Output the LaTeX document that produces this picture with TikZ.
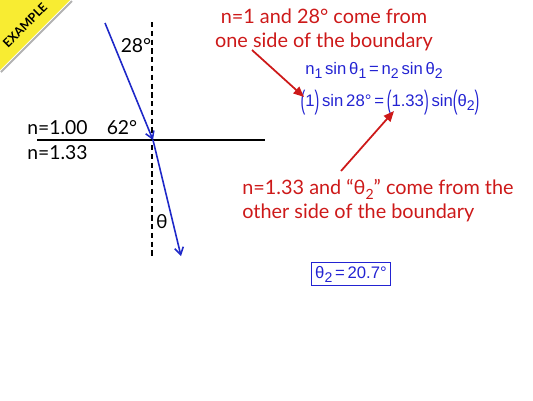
\documentclass[tikz,border=0pt]{standalone}
\usepackage{graphicx}
\usepackage{fontspec}
\setmainfont{Lato}
\newfontfamily\eqfont{Liberation Sans}
\usetikzlibrary{arrows.meta,positioning}
\definecolor{rayblue}{RGB}{30,40,200}
\definecolor{notered}{RGB}{205,25,25}
\definecolor{eqblue}{RGB}{35,35,210}
\definecolor{tagyellow}{RGB}{248,236,50}
\newcommand{\lowsub}[1]{\raisebox{-0.45ex}{\footnotesize #1}}
\newcommand{\bigpar}[1]{\raisebox{-0.35ex}{\scalebox{0.85}[1.6]{#1}}}

\begin{document}
\begin{tikzpicture}[
    x=0.02cm, y=0.02cm,
    label/.style={font=\fontsize{11}{13}\selectfont, inner sep=0pt},
    note/.style={font=\fontsize{11.3}{13.6}\selectfont, text=notered, inner sep=0pt},
    eq/.style={font=\eqfont\fontsize{9.5}{11}\selectfont, text=eqblue, inner sep=0pt},
    ray/.style={rayblue, line width=0.9pt, -{Straight Barb[length=4pt,width=5pt]}},
    pointer/.style={notered, line width=1pt, -{Triangle[length=6pt,width=5pt]}},
    normal/.style={densely dashed, line width=1pt},
    boundary/.style={line width=1.5pt}
]
    \useasboundingbox (0,0) rectangle (533,-400);
    % corner banner
    \draw[black!30, line width=1.2pt] (72,-1) -- (1,-72);
    \fill[tagyellow] (0,0) -- (70,0) -- (0,-70) -- cycle;
    \node[rotate=45, font=\bfseries\fontsize{7}{7}\selectfont, inner sep=0pt] (tag) at (25,-25) {EXAMPLE};

    % boundary, normal and rays
    \coordinate (src) at (105,-23);
    \coordinate (hit) at (153,-140);
    \coordinate (dst) at (181,-256);
    \coordinate (nTop) at (152,-22);
    \coordinate (nBot) at (152,-258);
    \coordinate (bLeft) at (37,-140);
    \coordinate (bRight) at (265,-140);

    \draw[boundary] (bLeft) -- (bRight);
    \draw[normal] (nTop) -- (nBot);
    \draw[ray] (src) -- (hit);
    \draw[ray] (hit) -- (dst);

    \node[label] (ang28) at (136,-46) {28°};
    \node[label, anchor=west] (nAir) at (27,-128) {n=1.00};
    \node[label] (ang62) at (122,-128) {62°};
    \node[label, anchor=west] (nWater) at (27,-153) {n=1.33};
    \node[label] (theta) at (162,-222) {θ};

    % notes
    \node[note, align=center] (noteTop) at (324,-30) {n=1 and 28° come from\\one side of the boundary};
    \node[note, align=left, anchor=west] (noteBot) at (242,-201) {n=1.33 and “θ\lowsub{2}” come from the\\other side of the boundary};

    % equations
    \node[eq] (snell) at (374,-70) {n\lowsub{1}\,sin\,θ\lowsub{1}\,=\,n\lowsub{2}\,sin\,θ\lowsub{2}};
    \node[eq] (subst) at (390,-103) {\bigpar{(}1\bigpar{)}\,sin\,28°\,=\,\bigpar{(}1.33\bigpar{)}\,sin\bigpar{(}θ\lowsub{2}\bigpar{)}};
    \node[eq, draw=eqblue, line width=0.8pt, inner sep=2pt] (answer) at (351,-274) {θ\lowsub{2}\,=\,20.7°};

    \coordinate (tail1) at (252,-50);
    \coordinate (tip1) at (304,-97);
    \coordinate (tail2) at (341,-171);
    \coordinate (tip2) at (394,-111);
    \draw[pointer] (tail1) -- (tip1);
    \draw[pointer] (tail2) -- (tip2);
\end{tikzpicture}
\end{document}
